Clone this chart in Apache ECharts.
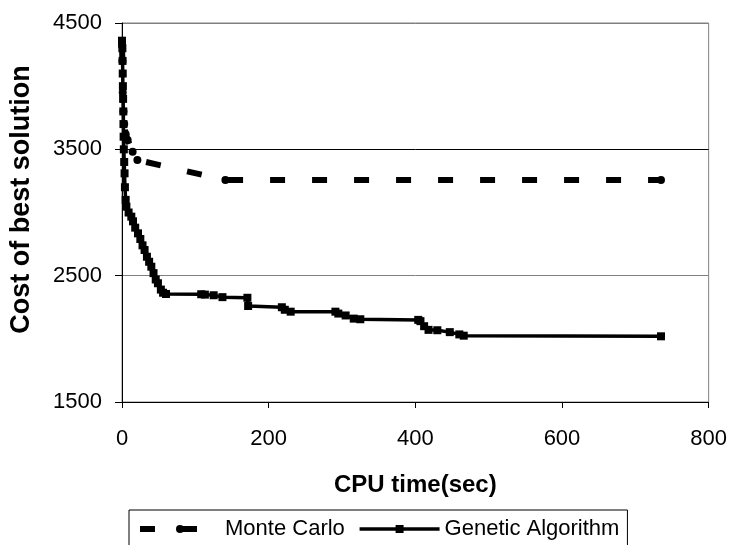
<!DOCTYPE html>
<html>
<head>
<meta charset="utf-8">
<script src="https://cdn.jsdelivr.net/npm/echarts@6/dist/echarts.min.js"></script>
<style>
  html, body { margin: 0; padding: 0; background: #fff; }
  #chart { width: 730px; height: 545px; }
</style>
</head>
<body>
<div id="chart"></div>
<script>
// CPU time (sec) and cost of the best solution found so far
const mcTime = [0, 0.5, 1, 2, 3, 5, 7.7, 14.5, 21, 141, 735];
const mcCost = [4320, 4200, 3950, 3800, 3700, 3620, 3573, 3481, 3415, 3257, 3257];

const gaTime = [0, 0.5, 0.8, 1, 1.2, 1.5, 1.8, 2, 2.2, 2.5, 3, 3.5, 4, 5, 6, 9, 12.7, 15, 18, 21.8,
  25, 28, 30.8, 34, 37, 40, 43, 46, 49, 53, 56, 60, 108, 113, 125, 137, 171, 172, 218, 222, 230,
  291, 295, 305, 316, 325, 404, 407, 412, 418, 430, 447, 460, 466, 735];
const gaCost = [4360, 4300, 4200, 4100, 4000, 3900, 3800, 3700, 3600, 3500, 3400, 3310, 3200, 3100, 3046, 3000, 2967, 2930, 2880, 2835,
  2790, 2740, 2703, 2650, 2610, 2571, 2520, 2470, 2440, 2390, 2365, 2355, 2353, 2350, 2345, 2330, 2325, 2260, 2250, 2230, 2215,
  2215, 2200, 2185, 2160, 2155, 2150, 2140, 2100, 2071, 2068, 2053, 2035, 2025, 2020];

const xTicks = { min: 0, max: 800, step: 200 };
const yTicks = { min: 1500, max: 4500, step: 1000 };

const seriesNames = ['Monte Carlo', 'Genetic Algorithm'];

const pairs = (xs, ys) => xs.map((x, i) => [x, ys[i]]);

const FONT = '"Liberation Sans", Arial, sans-serif';

const chart = echarts.init(document.getElementById('chart'), null, { renderer: 'canvas' });
chart.setOption({
  animation: false,
  backgroundColor: '#fff',
  textStyle: { fontFamily: FONT, color: '#000' },
  grid: {
    left: 121, right: 21, top: 23, bottom: 143,
    show: true, borderColor: '#808080', borderWidth: 1, backgroundColor: 'transparent'
  },
  xAxis: {
    type: 'value',
    min: xTicks.min, max: xTicks.max, interval: xTicks.step,
    name: 'CPU time(sec)',
    nameLocation: 'middle',
    nameGap: 71,
    nameTextStyle: { fontFamily: FONT, fontSize: 24, fontWeight: 'bold', color: '#000' },
    axisLine: { show: true, lineStyle: { color: '#000', width: 1 } },
    axisTick: { show: true, length: 6, inside: false, lineStyle: { color: '#000' } },
    axisLabel: { fontFamily: FONT, fontSize: 22, color: '#000', margin: 26 },
    splitLine: { show: false }
  },
  yAxis: {
    type: 'value',
    min: yTicks.min, max: yTicks.max, interval: yTicks.step,
    name: 'Cost of best solution',
    nameLocation: 'middle',
    nameGap: 87,
    nameTextStyle: { fontFamily: FONT, fontSize: 27, fontWeight: 'bold', color: '#000', padding: [0, 0, 0, 26] },
    axisLine: { show: true, lineStyle: { color: '#000', width: 1 } },
    axisTick: { show: true, length: 7, inside: false, lineStyle: { color: '#000' } },
    axisLabel: { fontFamily: FONT, fontSize: 22, color: '#000', margin: 20, formatter: v => String(v) },
    splitLine: { show: true, lineStyle: { color: ['#000', '#808080', '#000', '#808080'], width: 1 } }
  },
  legend: {
    top: 510,
    left: 129,
    data: seriesNames,
    itemWidth: 80,
    itemHeight: 10,
    itemGap: 13,
    borderColor: '#000',
    borderWidth: 1,
    borderRadius: 0,
    padding: [8, 8, 8, 8],
    lineStyle: { width: 'inherit' },
    textStyle: { fontFamily: FONT, fontSize: 22, color: '#000' }
  },
  series: [
    {
      name: seriesNames[0],
      type: 'line',
      data: pairs(mcTime, mcCost),
      symbol: 'circle',
      symbolSize: 8,
      showAllSymbol: true,
      itemStyle: { color: '#000' },
      lineStyle: { color: '#000', width: 6, type: [15, 27] },
      z: 2
    },
    {
      name: seriesNames[1],
      type: 'line',
      data: pairs(gaTime, gaCost),
      symbol: 'rect',
      symbolSize: 8,
      showAllSymbol: true,
      itemStyle: { color: '#000' },
      lineStyle: { color: '#000', width: 3.5 },
      z: 3
    }
  ]
});
</script>
</body>
</html>
